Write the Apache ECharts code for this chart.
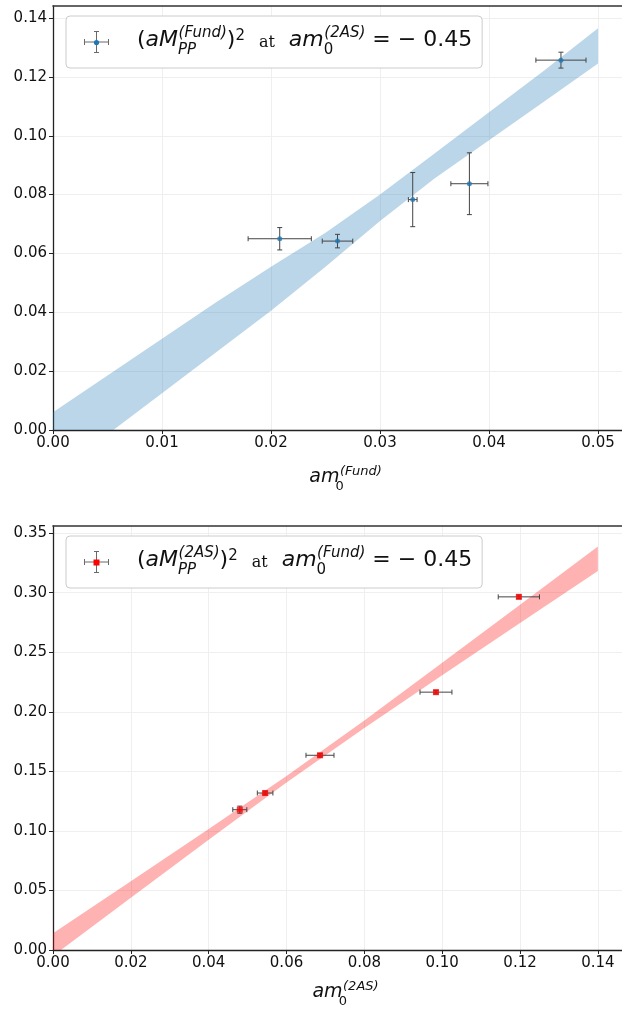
<!DOCTYPE html>
<html><head><meta charset="utf-8">
<script src="https://cdn.jsdelivr.net/npm/echarts@6/dist/echarts.min.js"></script>
<style>html,body{margin:0;padding:0;background:#fff}#c{width:622px;height:1010px}</style>
</head><body><div id="c"></div>
<script>
// ---------- top panel: (aM_PP^(Fund))^2 vs am_0^(Fund) ----------
const fundX    = [0.0208, 0.0261, 0.0330, 0.0382, 0.0466];
const fundY    = [0.0650, 0.0642, 0.0783, 0.0837, 0.1257];
const fundXErr = [0.0029, 0.0014, 0.0004, 0.0017, 0.0023];
const fundYErr = [0.0038, 0.0023, 0.0092, 0.0105, 0.0027];
// fit band
const fundBandX  = [0, 0.005, 0.01, 0.015, 0.02, 0.025, 0.03, 0.035, 0.04, 0.045, 0.05];
const fundBandLo = [-0.016, -0.0015, 0.0125, 0.0265, 0.0405, 0.0555, 0.0710, 0.0855, 0.0985, 0.1115, 0.1246];
const fundBandHi = [0.006, 0.0185, 0.031, 0.0435, 0.0555, 0.067, 0.080, 0.094, 0.108, 0.122, 0.1365];
const fundXTicks = [0, 0.01, 0.02, 0.03, 0.04, 0.05];
const fundYTicks = [0, 0.02, 0.04, 0.06, 0.08, 0.10, 0.12, 0.14];

// ---------- bottom panel: (aM_PP^(2AS))^2 vs am_0^(2AS) ----------
const asX    = [0.0480, 0.0545, 0.0686, 0.0984, 0.1197];
const asY    = [0.1178, 0.1318, 0.1635, 0.2165, 0.2965];
const asXErr = [0.0018, 0.0020, 0.0036, 0.0041, 0.0053];
const asYErr = [0.0030, 0.0015, 0.0015, 0.0015, 0.0015];
const asBandX  = [0, 0.02, 0.04, 0.06, 0.08, 0.10, 0.12, 0.14];
const asBandLo = [-0.0050, 0.0439, 0.0926, 0.1406, 0.1865, 0.2307, 0.2745, 0.3182];
const asBandHi = [0.0140, 0.0577, 0.1016, 0.1460, 0.1927, 0.2411, 0.2899, 0.3388];
const asXTicks = [0, 0.02, 0.04, 0.06, 0.08, 0.10, 0.12, 0.14];
const asYTicks = [0, 0.05, 0.10, 0.15, 0.20, 0.25, 0.30, 0.35];

const FONT = 'DejaVu Sans';
const TXT = '#111';
const F = 22, S = 15;
const rich = {
  g:    {width: 23},
  n:    {fontFamily: FONT, fontSize: F, color: TXT, padding: [0,0,7,0], verticalAlign: 'bottom'},
  i:    {fontFamily: FONT, fontSize: F, fontStyle: 'italic', color: TXT, padding: [0,0,7,0], verticalAlign: 'bottom'},
  rm:   {fontFamily: 'DejaVu Serif', fontSize: 16, color: TXT, padding: [0,0,7,0], verticalAlign: 'bottom'},
  sub:  {fontFamily: FONT, fontSize: S, fontStyle: 'italic', color: TXT, padding: [0,0,0,0], verticalAlign: 'bottom', width: 0.5},
  sub0: {fontFamily: FONT, fontSize: S, color: TXT, padding: [0,0,0,0], verticalAlign: 'bottom', width: 0.5},
  sup:  {fontFamily: FONT, fontSize: S, fontStyle: 'italic', color: TXT, padding: [0,0,17,0], verticalAlign: 'bottom'},
  sup2: {fontFamily: FONT, fontSize: S, color: TXT, padding: [0,0,14,0], verticalAlign: 'bottom'},
  xi:   {fontFamily: FONT, fontSize: 19, fontStyle: 'italic', color: TXT, padding: [0,0,6,0], verticalAlign: 'bottom'},
  xsub: {fontFamily: FONT, fontSize: 13, color: TXT, padding: [0,0,0,0], verticalAlign: 'bottom', width: 0.5},
  xsup: {fontFamily: FONT, fontSize: 13, fontStyle: 'italic', color: TXT, padding: [0,0,15,0], verticalAlign: 'bottom'}
};

const legTop = '{g|}{n|(}{i|aM}{sub|PP}{sup|(Fund)}{n|)}{sup2|2}{n|  }{rm|at}{n|  }{i|am}{sub0|0}{sup|(2AS)}{n| = − 0.45}';
const legBot = '{g|}{n|(}{i|aM}{sub|PP}{sup|(2AS)}{n|)}{sup2|2}{n|  }{rm|at}{n|  }{i|am}{sub0|0}{sup|(Fund)}{n| = − 0.45}';

const CROSS = 'path://M0 10.5h25v1h-25z M12 0h1v22h-1z M0 8h1v6h-1z M24 8h1v6h-1z M10 0h5v1h-5z M10 21h5v1h-5z';

function errorBars(xs, ys, xe, ye, xi, yi) {
  return {
    type: 'custom', xAxisIndex: xi, yAxisIndex: yi, z: 3, silent: true,
    data: xs.map((x, k) => [x, ys[k], xe[k], ye[k]]),
    encode: {x: 0, y: 1},
    renderItem: (params, api) => {
      const x = api.value(0), y = api.value(1), dx = api.value(2), dy = api.value(3);
      const l = api.coord([x - dx, y]), r = api.coord([x + dx, y]);
      const b = api.coord([x, y - dy]), t = api.coord([x, y + dy]);
      const c = 2.5;
      const ln = (x1, y1, x2, y2) => ({type: 'line', shape: {x1, y1, x2, y2}, style: {stroke: '#444', lineWidth: 1}});
      return {type: 'group', children: [
        ln(l[0], l[1], r[0], r[1]),
        ln(l[0], l[1] - c, l[0], l[1] + c),
        ln(r[0], r[1] - c, r[0], r[1] + c),
        ln(b[0], b[1], t[0], t[1]),
        ln(b[0] - c, b[1], b[0] + c, b[1]),
        ln(t[0] - c, t[1], t[0] + c, t[1])
      ]};
    }
  };
}

function band(xs, lo, hi, color, xi, yi) {
  return {
    type: 'custom', xAxisIndex: xi, yAxisIndex: yi, z: 1, silent: true,
    data: [[xs[0], hi[0]]],
    encode: {x: 0, y: 1},
    renderItem: (params, api) => {
      const pts = [];
      xs.forEach((x, k) => pts.push(api.coord([x, hi[k]])));
      for (let k = xs.length - 1; k >= 0; k--) pts.push(api.coord([xs[k], lo[k]]));
      const cs = params.coordSys;
      return {type: 'polygon', shape: {points: pts}, style: {fill: color},
        clipPath: {type: 'rect', shape: {x: cs.x, y: cs.y, width: cs.width, height: cs.height}}};
    }
  };
}

const fmt = v => v.toFixed(2);
function xAxisCfg(gi, max, ticks, name, gap) {
  return {
    type: 'value', gridIndex: gi, min: 0, max: max, position: 'bottom',
    axisLine: {show: true, onZero: false, lineStyle: {color: '#222', width: 1.3}},
    axisTick: {show: true, length: 4, customValues: ticks, lineStyle: {color: '#222'}},
    axisLabel: {customValues: ticks, formatter: fmt, fontSize: 15, fontFamily: FONT, color: TXT, margin: 6},
    splitLine: {show: true, lineStyle: {color: '#efefef', width: 1}},
    name: name, nameLocation: 'middle', nameGap: gap,
    nameTextStyle: {rich: rich, padding: [0, 0, 0, 16]}
  };
}
function yAxisCfg(gi, max, ticks) {
  return {
    type: 'value', gridIndex: gi, min: 0, max: max,
    axisLine: {show: true, onZero: false, lineStyle: {color: '#222', width: 1.3}},
    axisTick: {show: true, length: 4, customValues: ticks, lineStyle: {color: '#222'}},
    axisLabel: {customValues: ticks, formatter: fmt, fontSize: 15, fontFamily: FONT, color: TXT, margin: 6},
    splitLine: {show: true, lineStyle: {color: '#efefef', width: 1}}
  };
}
function topSpine(gi, max) {
  return {type: 'value', gridIndex: gi, min: 0, max: max, position: 'top',
    axisLine: {show: true, onZero: false, lineStyle: {color: '#333', width: 1.6}},
    axisTick: {show: false}, axisLabel: {show: false}, splitLine: {show: false}};
}
function legendCfg(name, top, text) {
  return {
    left: 66, top: top, orient: 'horizontal', padding: [10, 10, 10, 18],
    itemWidth: 25, itemHeight: 22, itemGap: 0,
    backgroundColor: '#fff', borderColor: '#cccccc', borderWidth: 1, borderRadius: 4,
    selectedMode: false,
    data: [{name: name, icon: CROSS, itemStyle: {color: '#444'}}],
    formatter: () => text,
    textStyle: {rich: rich}
  };
}

const chart = echarts.init(document.getElementById('c'));
chart.setOption({
  animation: false,
  backgroundColor: '#fff',
  grid: [
    {left: 53, top: 6, right: 0, height: 424},
    {left: 53, top: 526, right: 0, height: 424}
  ],
  xAxis: [
    xAxisCfg(0, 0.0522, fundXTicks, '{xi|am}{xsub|0}{xsup|(Fund)}', 35),
    xAxisCfg(1, 0.1462, asXTicks, '{xi|am}{xsub|0}{xsup|(2AS)}', 30),
    topSpine(0, 0.0522),
    topSpine(1, 0.1462)
  ],
  yAxis: [
    yAxisCfg(0, 0.1441, fundYTicks),
    yAxisCfg(1, 0.356, asYTicks)
  ],
  legend: [legendCfg('fund', 16, legTop), legendCfg('as', 536, legBot)],
  series: [
    band(fundBandX, fundBandLo, fundBandHi, 'rgba(31,119,180,0.3)', 0, 0),
    errorBars(fundX, fundY, fundXErr, fundYErr, 0, 0),
    {type: 'scatter', name: 'fund', xAxisIndex: 0, yAxisIndex: 0, z: 4,
      symbol: 'circle', symbolSize: 5, itemStyle: {color: '#1f77b4'},
      data: fundX.map((x, k) => [x, fundY[k]])},
    band(asBandX, asBandLo, asBandHi, 'rgba(255,0,0,0.3)', 1, 1),
    errorBars(asX, asY, asXErr, asYErr, 1, 1),
    {type: 'scatter', name: 'as', xAxisIndex: 1, yAxisIndex: 1, z: 4,
      symbol: 'rect', symbolSize: 6, itemStyle: {color: '#ff0000'},
      data: asX.map((x, k) => [x, asY[k]])}
  ],
  graphic: [
    {type: 'circle', shape: {cx: 96.5, cy: 42.5, r: 2.6}, style: {fill: '#1f77b4'}, z: 200, silent: true},
    {type: 'rect', shape: {x: 93.5, y: 559.5, width: 6, height: 6}, style: {fill: '#ff0000'}, z: 200, silent: true}
  ]
});
</script></body></html>
